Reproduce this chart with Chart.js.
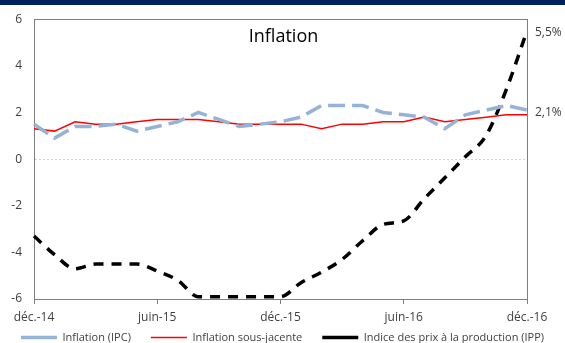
<!DOCTYPE html>
<html>
<head>
<meta charset="utf-8">
<script src="https://cdn.jsdelivr.net/npm/chart.js@4.4.1/dist/chart.umd.min.js"></script>
<style>
  html, body { margin: 0; padding: 0; background: #fff; }
  #wrap { position: relative; width: 565px; height: 343px; }
  #band { position: absolute; left: 0; top: 0; width: 565px; height: 5px; background: #002060; }
</style>
</head>
<body>
<div id="wrap">
  <canvas id="myChart" width="565" height="343"></canvas>
  <div id="band"></div>
</div>
<script>
// mois de déc. 2014 à déc. 2016
const months = ['déc.-14', 'janv.-15', 'févr.-15', 'mars-15', 'avr.-15', 'mai-15', 'juin-15',
  'juil.-15', 'août-15', 'sept.-15', 'oct.-15', 'nov.-15', 'déc.-15', 'janv.-16', 'févr.-16',
  'mars-16', 'avr.-16', 'mai-16', 'juin-16', 'juil.-16', 'août-16', 'sept.-16', 'oct.-16',
  'nov.-16', 'déc.-16'];
const shownMonths = ['déc.-14', 'juin-15', 'déc.-15', 'juin-16', 'déc.-16'];
const yTicks = [-6, -4, -2, 0, 2, 4, 6];

const ipc = [1.5, 0.9, 1.4, 1.4, 1.5, 1.2, 1.4, 1.6, 2.0, 1.7, 1.4, 1.5, 1.6, 1.8, 2.3, 2.3, 2.3,
  2.0, 1.9, 1.8, 1.3, 1.9, 2.1, 2.3, 2.1];
const core = [1.3, 1.2, 1.6, 1.5, 1.5, 1.6, 1.7, 1.7, 1.7, 1.6, 1.5, 1.5, 1.5, 1.5, 1.3, 1.5, 1.5,
  1.6, 1.6, 1.8, 1.6, 1.7, 1.8, 1.9, 1.9];
const ipp = [-3.3, -4.1, -4.7, -4.5, -4.5, -4.5, -4.8, -5.2, -5.9, -5.9, -5.9, -5.9, -5.9, -5.3,
  -4.85, -4.3, -3.5, -2.8, -2.65, -1.7, -0.8, 0.1, 1.0, 3.0, 5.5];

const font = '"Open Sans", "Liberation Sans", sans-serif';

function fmt(v) {
  return v.toFixed(1).replace('.', ',') + '%';
}

// cadre, titre et étiquettes de fin
const extras = {
  id: 'extras',
  beforeDatasetsDraw(chart) {
    const a = chart.chartArea;
    const ctx = chart.ctx;
    ctx.save();
    ctx.strokeStyle = '#7f7f7f';
    ctx.lineWidth = 1;
    ctx.strokeRect(Math.round(a.left) + 0.5, Math.round(a.top) + 0.5,
      Math.round(a.right - a.left), Math.round(a.bottom - a.top));
    ctx.restore();
  },
  afterDatasetsDraw(chart) {
    const a = chart.chartArea;
    const ctx = chart.ctx;
    const y = chart.scales.y;
    ctx.save();
    ctx.fillStyle = '#000';
    ctx.font = '18px ' + font;
    ctx.textAlign = 'center';
    ctx.textBaseline = 'middle';
    ctx.fillText('Inflation', (a.left + a.right) / 2 + 3, a.top + 18);

    ctx.font = '12px ' + font;
    ctx.fillStyle = '#404040';
    ctx.textAlign = 'left';
    ctx.fillText(fmt(ipp[ipp.length - 1]), a.right + 8, y.getPixelForValue(ipp[ipp.length - 1]) + 2);
    ctx.fillText(fmt(ipc[ipc.length - 1]), a.right + 8, y.getPixelForValue(ipc[ipc.length - 1]) + 2);
    ctx.restore();
  }
};

// légende collée en bas, sans manger la place des étiquettes de l'axe x
const legendPlace = {
  id: 'legendPlace',
  beforeLayout(chart) {
    const lg = chart.legend;
    if (lg && !lg._patched) {
      const fit = lg.fit;
      lg.fit = function () { fit.call(this); this.height = 14; };
      lg._patched = true;
    }
  },
  afterLayout(chart) {
    const lg = chart.legend;
    lg.top = chart.height - 11 - lg.options.labels.padding;
  }
};

const ctx = document.getElementById('myChart').getContext('2d');
const myChart = new Chart(ctx, {
  type: 'line',
  data: {
    labels: months,
    datasets: [{
      label: 'Inflation (IPC)',
      data: ipc,
      borderColor: '#95b3d7',
      backgroundColor: '#95b3d7',
      borderWidth: 3.5,
      borderDash: [17, 7],
      pointRadius: 0,
      tension: 0
    }, {
      label: 'Inflation sous-jacente',
      data: core,
      borderColor: '#ff0000',
      backgroundColor: '#ff0000',
      borderWidth: 1.5,
      pointRadius: 0,
      tension: 0
    }, {
      label: 'Indice des prix à la production (IPP)',
      data: ipp,
      borderColor: '#000000',
      backgroundColor: '#000000',
      borderWidth: 3.5,
      borderDash: [10, 8],
      pointRadius: 0,
      cubicInterpolationMode: 'monotone'
    }]
  },
  options: {
    responsive: false,
    animation: false,
    layout: { padding: { left: 0, right: 0, top: 14, bottom: 0 } },
    plugins: {
      tooltip: { enabled: false },
      legend: {
        position: 'bottom',
        labels: {
          usePointStyle: true,
          pointStyle: 'line',
          pointStyleWidth: 36,
          padding: 20,
          color: '#404040',
          font: { family: font, size: 11 }
        }
      }
    },
    scales: {
      x: {
        grid: {
          drawOnChartArea: false,
          tickLength: 5,
          color: (c) => shownMonths.includes(months[c.index]) ? '#7f7f7f' : 'rgba(0,0,0,0)'
        },
        border: { color: '#7f7f7f' },
        ticks: {
          autoSkip: false,
          maxRotation: 0,
          padding: 6,
          color: '#404040',
          font: { family: font, size: 12 },
          callback: (v, i) => shownMonths.includes(months[i]) ? months[i] : ''
        },
        afterFit: (s) => { s.height = 30; }
      },
      y: {
        min: -6,
        max: 6,
        afterBuildTicks: (s) => { s.ticks = yTicks.map(v => ({ value: v })); },
        grid: {
          drawTicks: false,
          color: (c) => c.tick && c.tick.value === 0 ? '#d0d0d0' : 'rgba(0,0,0,0)'
        },
        border: { color: '#7f7f7f', dash: [2, 2] },
        ticks: {
          padding: 12,
          color: '#404040',
          font: { family: font, size: 12 }
        },
        afterFit: (s) => { s.width = 34; }
      },
      // marge à droite pour les étiquettes 5,5% / 2,1%
      yr: {
        position: 'right',
        grid: { display: false },
        border: { display: false },
        ticks: { display: false },
        afterFit: (s) => { s.width = 38; }
      }
    }
  },
  plugins: [extras, legendPlace]
});
</script>
</body>
</html>
